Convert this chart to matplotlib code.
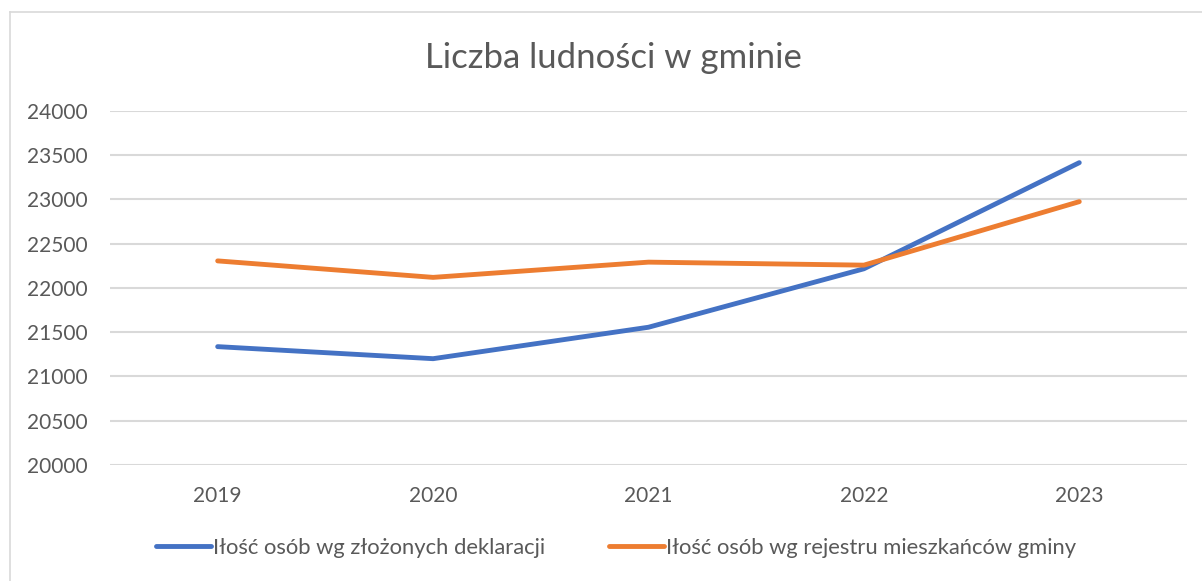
import matplotlib
matplotlib.use('Agg')
from matplotlib import pyplot as plt
from matplotlib.lines import Line2D

years = ['2019', '2020', '2021', '2022', '2023']
deklaracje = [21336, 21200, 21555, 22215, 23413]
rejestr = [22304, 22118, 22290, 22256, 22973]
yticks = list(range(20000, 24001, 500))

label1 = 'Iłość osób wg złożonych deklaracji'
label2 = 'Iłość osób wg rejestru mieszkańców gminy'

plt.rcParams['font.family'] = ['Lato', 'DejaVu Sans']
txt = '#595959'
grid_c = '#d9d9d9'

fig = plt.figure(figsize=(12.02, 5.81), dpi=100)
ax = fig.add_axes([0.0915, 0.1997, 0.896, 0.6098])

x = range(len(years))
ax.plot(x, deklaracje, color='#4472C4', lw=3.5, solid_capstyle='round',
        solid_joinstyle='round', label=label1, zorder=3)
ax.plot(x, rejestr, color='#ED7D31', lw=3.5, solid_capstyle='round',
        solid_joinstyle='round', label=label2, zorder=3)

ax.set_xlim(-0.5, len(years) - 0.5)
ax.set_ylim(20000, 24000)
ax.set_yticks(yticks)
ax.set_xticks(list(x))
ax.set_xticklabels(years)
ax.yaxis.grid(True, color=grid_c, lw=1.5)
ax.set_axisbelow(True)
for s in ax.spines.values():
    s.set_visible(False)
ax.tick_params(axis='both', length=0, labelsize=15, colors=txt)
ax.tick_params(axis='y', pad=16)
ax.tick_params(axis='x', pad=15)

fig.text(0.51, 0.9, 'Liczba ludności w gminie', ha='center', va='center',
         fontsize=25, color=txt)

fig.legend(loc='center', bbox_to_anchor=(0.5125, 0.057), ncol=2, frameon=False,
           fontsize=15.8, labelcolor=txt, handlelength=2.5, handletextpad=0.1,
           columnspacing=2.9)

# ramka wykresu (widoczna tylko lewa i gorna krawedz)
fig.add_artist(Line2D([0.0083, 0.0083], [0.0, 0.979], color=grid_c, lw=1.2))
fig.add_artist(Line2D([0.0083, 1.0], [0.979, 0.979], color=grid_c, lw=1.2))

plt.savefig('out.png', dpi=100)
